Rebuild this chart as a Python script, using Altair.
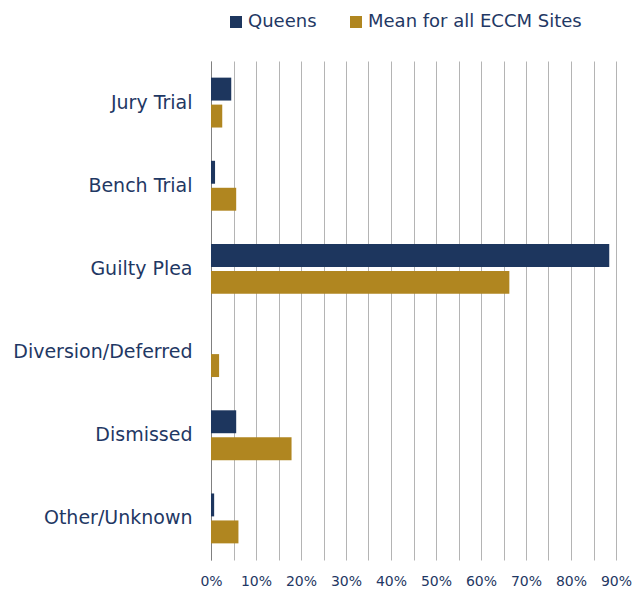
import altair as alt
import pandas as pd

categories = ["Jury Trial", "Bench Trial", "Guilty Plea", "Diversion/Deferred", "Dismissed", "Other/Unknown"]
series = ["Queens", "Mean for all ECCM Sites"]
queens = [0.045, 0.009, 0.885, 0.0, 0.056, 0.007]
mean_all = [0.025, 0.056, 0.663, 0.018, 0.179, 0.061]
colors = ["#1d365e", "#b08620"]
x_ticks = [i / 100 for i in range(0, 95, 5)]

rows = []
for c, q, m in zip(categories, queens, mean_all):
    rows.append({"category": c, "series": series[0], "value": q})
    rows.append({"category": c, "series": series[1], "value": m})
df = pd.DataFrame(rows)

FONT = "DejaVu Sans"
TEXT = "#1f3864"

chart = alt.Chart(df).mark_bar().encode(
    y=alt.Y("category:N", sort=categories,
            scale=alt.Scale(paddingInner=0.4, paddingOuter=0.2),
            axis=alt.Axis(title=None, labelFontSize=19, labelColor=TEXT, labelFont=FONT,
                          labelPadding=19, ticks=False, domainColor="#808080",
                          labelLimit=400, grid=False)),
    yOffset=alt.YOffset("series:N", sort=series, scale=alt.Scale(paddingInner=0.15)),
    x=alt.X("value:Q", scale=alt.Scale(domain=[0, 0.9], nice=False),
            axis=alt.Axis(title=None, values=x_ticks, domain=False, ticks=False,
                          gridColor="#b4b4b4", gridOpacity=1, labelOverlap=False,
                          labelFlush=False,
                          labelExpr="round(datum.value*100) % 10 == 0 ? round(datum.value*100) + '%' : ''",
                          labelFontSize=14, labelColor=TEXT, labelFont=FONT, labelPadding=14)),
    color=alt.Color("series:N", sort=series,
                    scale=alt.Scale(domain=series, range=colors),
                    legend=alt.Legend(title=None, orient="none", legendX=16, legendY=-48,
                                      direction="horizontal", symbolType="square", symbolSize=144,
                                      symbolStrokeWidth=0, labelFontSize=18, labelColor=TEXT,
                                      labelFont=FONT, labelOffset=3, columnPadding=30,
                                      labelLimit=400)),
).properties(width=405, height=499,
             padding={"left": 4, "top": 5, "right": 0, "bottom": 5}).configure_view(stroke=None)

chart.save("out.html", embed_options={"renderer": "svg", "actions": False})
